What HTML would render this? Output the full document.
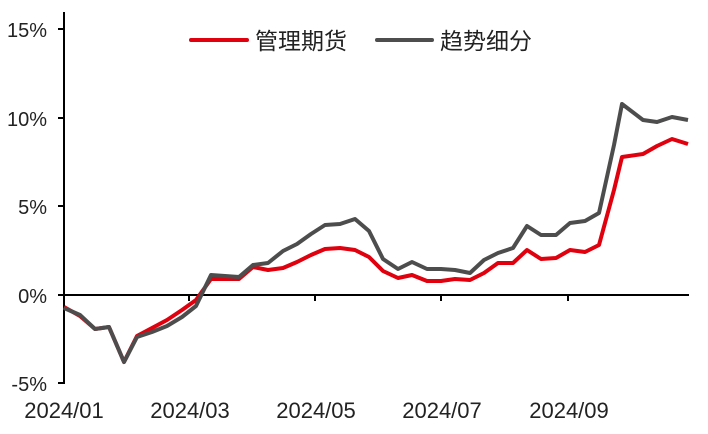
<!DOCTYPE html>
<html><head><meta charset="utf-8"><style>
html,body{margin:0;padding:0;background:#fff;}
svg text{font-family:"Liberation Sans","Noto Sans CJK SC",sans-serif;fill:#222;}
</style></head><body>
<svg width="708" height="429" viewBox="0 0 708 429" xmlns="http://www.w3.org/2000/svg">
<g stroke="#000" stroke-width="2" fill="none">
<line x1="64" y1="12" x2="64" y2="384"/>
<line x1="64" y1="295" x2="689" y2="295"/>
<line x1="58" y1="29" x2="64" y2="29"/>
<line x1="58" y1="118" x2="64" y2="118"/>
<line x1="58" y1="206" x2="64" y2="206"/>
<line x1="58" y1="295" x2="64" y2="295"/>
<line x1="58" y1="383" x2="64" y2="383"/>
<line x1="189" y1="295" x2="189" y2="301"/>
<line x1="315" y1="295" x2="315" y2="301"/>
<line x1="441" y1="295" x2="441" y2="301"/>
<line x1="568" y1="295" x2="568" y2="301"/>
</g>
<g font-size="20" text-anchor="end">
<text x="47" y="37">15%</text>
<text x="47" y="126">10%</text>
<text x="47" y="214">5%</text>
<text x="47" y="303">0%</text>
<text x="47" y="391">-5%</text>
</g>
<g font-size="22" text-anchor="middle">
<text x="64" y="418">2024/01</text>
<text x="190" y="418">2024/03</text>
<text x="316" y="418">2024/05</text>
<text x="442" y="418">2024/07</text>
<text x="569" y="418">2024/09</text>
</g>
<polyline fill="none" stroke="#e0000e" stroke-width="4" stroke-linejoin="round" points="64,307 80,316 95,329 109,327 124,362 137,336 152,328 167,320 182,310 196,300 211,279 225,279 239,279 253,267 268,270 283,268 297,262 311,255 325,249 340,248 355,250 369,257 383,271 398,278 412,275 427,281 441,281 455,279 470,280 484,273 498,263 513,263 527,250 541,259 556,258 570,250 585,252 599,245 614,190 622,157 643,154 657,146 672,139 688,144"/>
<polyline fill="none" stroke="#4d4d4d" stroke-width="4" stroke-linejoin="round" points="64,308 80,315 95,329 109,327 124,362 137,337 152,332 167,326 182,317 196,306 211,275 225,276 239,277 253,265 268,263 283,251 297,244 311,234 325,225 340,224 355,219 369,231 383,259 398,269 412,262 427,269 441,269 455,270 470,273 484,260 498,253 513,248 527,226 541,235 556,235 570,223 585,221 599,213 614,145 622,104 643,120 657,122 672,117 688,120"/>
<line x1="191" y1="40" x2="247" y2="40" stroke="#e0000e" stroke-width="4" stroke-linecap="round"/>
<text x="255" y="49" font-size="23">管理期货</text>
<line x1="377" y1="40" x2="432" y2="40" stroke="#4d4d4d" stroke-width="4" stroke-linecap="round"/>
<text x="440" y="49" font-size="23">趋势细分</text>
</svg>
</body></html>
